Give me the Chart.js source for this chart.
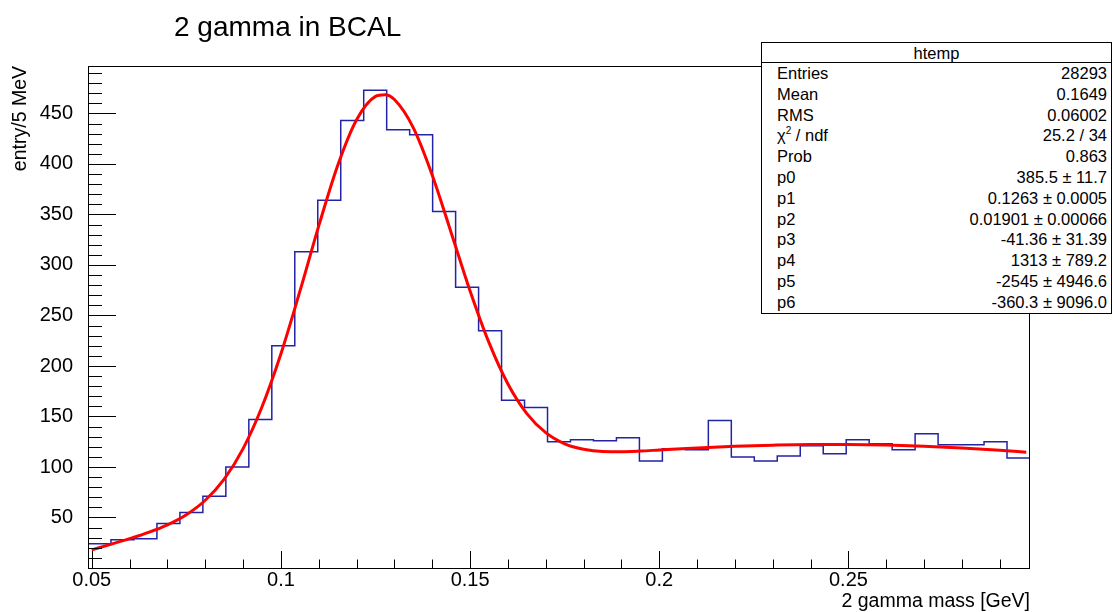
<!DOCTYPE html>
<html lang="en"><head>
<meta charset="utf-8">
<title>2 gamma in BCAL</title>
<style type="text/css">
body { margin:0; background:#fff; font-family:"Liberation Sans",Arial,sans-serif; }
#wrap { position:relative; width:1113px; height:612px; }
#title { position:absolute; left:174px; top:13px; font-size:28px; line-height:28px; color:#000; white-space:nowrap; }
#stats { position:absolute; left:761px; top:42px; width:349px; border:1px solid #000; background:#fff; font-size:16.5px; color:#000; }
#stats .hdr { height:19px; line-height:20px; text-align:center; border-bottom:1px solid #000; }
#stats .row { display:flex; justify-content:space-between; height:20.8px; line-height:20.8px; padding:0 4px 0 15px; }
</style>
<script src="https://cdn.jsdelivr.net/npm/chart.js"></script>
<script>
// histogram: 41 bins between binLo and binHi
binLo=0.049; binHi=0.298;
counts=[24,28,29,44,55,71,100,147,220,313,364,443,473,434,429,353,278,235,166,159,
        125,127,126,129,106,118,117,146,110,106,111,121,113,127,123,117,133,122,122,125,109];
// fit curve
fitX=[0.05,0.055,0.06,0.065,0.07,0.075,0.08,0.085,0.09,0.095,0.1,0.105,0.11,0.115,0.12,0.125,0.1275,
      0.13,0.135,0.14,0.145,0.15,0.155,0.16,0.165,0.17,0.175,0.18,0.185,0.19,0.195,0.2,
      0.21,0.22,0.23,0.24,0.25,0.26,0.27,0.28,0.29,0.297];
fitY=[18.0,23.4,29.1,35.3,42.8,52.8,67.1,88.0,118.2,159.6,212.1,273.8,338.7,398.5,443.8,466.9,468.6,
      463.8,435.8,388.9,332.0,274.3,223.1,182.2,152.9,134.0,123.0,117.6,115.4,115.2,115.8,116.8,
      118.8,120.5,121.6,122.2,122.2,121.7,120.5,118.8,116.6,114.7];
xTicks=[0.05,0.1,0.15,0.2,0.25];
yMax=497;
statNames=['Entries','Mean','RMS','\u03c7<span style="font-size:10px;position:relative;top:-7px">2</span> / ndf','Prob','p0','p1','p2','p3','p4','p5','p6'];
statValues=['28293','0.1649','0.06002','25.2 / 34','0.863','385.5 \u00b1 11.7','0.1263 \u00b1 0.0005',
            '0.01901 \u00b1 0.00066','-41.36 \u00b1 31.39','1313 \u00b1 789.2','-2545 \u00b1 4946.6','-360.3 \u00b1 9096.0'];

font='"Liberation Sans",Arial,sans-serif';

frameTicks={id:'frameTicks',afterDatasetsDraw(c) {
  ctx=c.ctx; a=c.chartArea; sx=c.scales.x; sy=c.scales.y;
  ctx.save(); ctx.strokeStyle='#000'; ctx.lineWidth=1; ctx.beginPath();
  for (k=5;k<=29;k++) {
    px=Math.round(sx.getPixelForValue(k/100))+0.5; len=(k%5==0)?17:8.5;
    ctx.moveTo(px,a.bottom); ctx.lineTo(px,a.bottom-len); }
  for (k=1;k*10<yMax;k++) {
    py=Math.round(sy.getPixelForValue(k*10))+0.5; len=(k%5==0)?28:14;
    ctx.moveTo(a.left,py); ctx.lineTo(a.left+len,py); }
  ctx.stroke();
  ctx.strokeRect(Math.round(a.left)+0.5,Math.round(a.top)+0.5,Math.round(a.right-a.left)-1,Math.round(a.bottom-a.top));
  ctx.restore(); }};

function initChart() {
  w=(binHi-binLo)/counts.length; hist=[];
  for (i=0;i<counts.length;i++) hist.push({x:binLo+i*w,y:counts[i]});
  hist.push({x:binHi,y:counts[counts.length-1]});
  fit=[]; for (i=0;i<fitX.length;i++) fit.push({x:fitX[i],y:fitY[i]});

  html='<div class="hdr">htemp</div>';
  for (i=0;i<statNames.length;i++) html+='<div class="row"><span>'+statNames[i]+'</span><span>'+statValues[i]+'</span></div>';
  document.getElementById('stats').innerHTML=html;

  config={type:'line',data:{datasets:[{
    label:'fit',data:fit,borderColor:'#ff0000',borderWidth:3,pointRadius:0,fill:false,
    cubicInterpolationMode:'monotone',order:0},{
    label:'htemp',data:hist,borderColor:'#2323a6',borderWidth:1.5,pointRadius:0,fill:false,
    stepped:'before',order:1}]},
  options:{responsive:true,maintainAspectRatio:false,animation:false,
    layout:{padding:{left:0,right:83,top:66,bottom:0}},
    plugins:{legend:{display:false},tooltip:{enabled:false}},
    scales:{
      x:{type:'linear',min:binLo,max:binHi,
        afterFit:function(s){s.height=44;},
        grid:{display:false},border:{display:false},
        afterBuildTicks:function(s){s.ticks=xTicks.map(function(v){return {value:v};});},
        ticks:{color:'#000',font:{family:font,size:20},padding:-8,maxRotation:0,autoSkip:false,
          callback:function(v){return String(Math.round(v*100)/100);}},
        title:{display:true,text:'2 gamma mass [GeV]',align:'end',color:'#000',
          font:{family:font,size:19.5,lineHeight:1.2},padding:{top:0,bottom:-1}}},
      y:{type:'linear',min:0,max:yMax,
        afterFit:function(s){s.width=88;},
        grid:{display:false},border:{display:false},
        ticks:{stepSize:50,includeBounds:false,color:'#000',font:{family:font,size:20},padding:7,
          callback:function(v){return v==0?'':v;}},
        title:{display:true,text:'entry/5 MeV',align:'end',color:'#000',
          font:{family:font,size:19.5,lineHeight:1.2},padding:{top:9,bottom:0}}}}},
  plugins:[frameTicks]};
  myChart=new Chart(document.getElementById('myChart'),config); }
</script></head>
<body onload="initChart();">
<div id="wrap">
  <canvas id="myChart"></canvas>
  <div id="title">2 gamma in BCAL</div>
  <div id="stats"></div>
</div>
</body></html>
